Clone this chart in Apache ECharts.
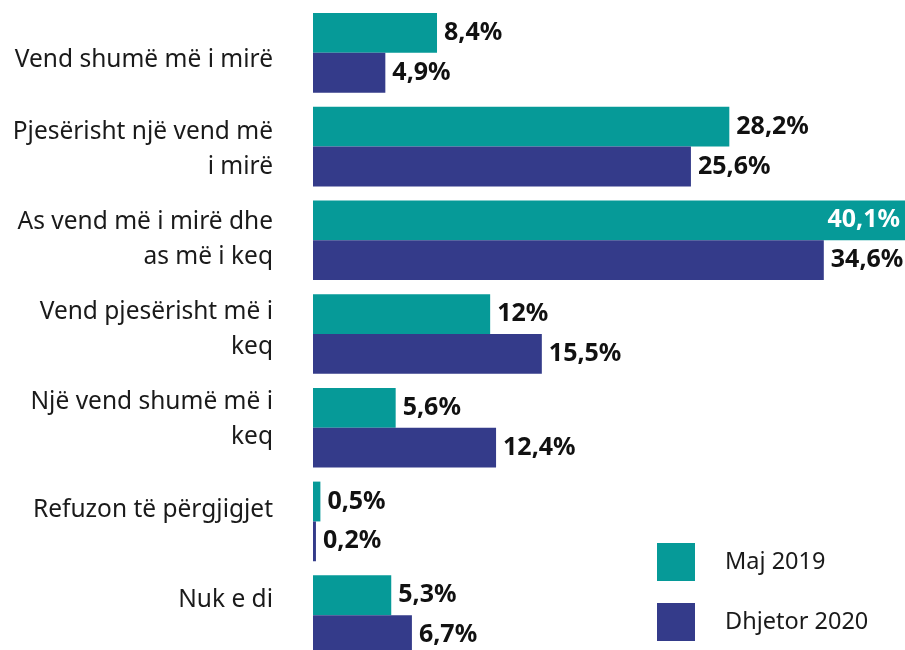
<!DOCTYPE html>
<html>
<head>
<meta charset="utf-8">
<script src="https://cdn.jsdelivr.net/npm/echarts@6/dist/echarts.min.js"></script>
<style>
html, body { margin: 0; padding: 0; background: #fff; overflow: hidden; }
/* taller than the window: the last bar is cut at the bottom edge, as in the original */
#chart { width: 905px; height: 664px; }
</style>
</head>
<body>
<div id="chart"></div>
<script>
var categories = [
    'Vend shumë më i mirë',
    'Pjesërisht një vend më\ni mirë',
    'As vend më i mirë dhe\nas më i keq',
    'Vend pjesërisht më i\nkeq',
    'Një vend shumë më i\nkeq',
    'Refuzon të përgjigjet',
    'Nuk e di'
];
var maj2019 = [8.4, 28.2, 40.1, 12, 5.6, 0.5, 5.3];
var dhjetor2020 = [4.9, 25.6, 34.6, 15.5, 12.4, 0.2, 6.7];

var font = 'Noto Sans';
function pct(p) {
    return String(p.value).replace('.', ',') + '%';
}

var myChart = echarts.init(document.getElementById('chart'));
var valueLabel = {
    show: true,
    position: 'right',
    distance: 7,
    formatter: pct,
    fontFamily: font,
    fontSize: 25,
    fontWeight: 'bold',
    color: '#111'
};
var option = {
    animation: false,
    textStyle: { fontFamily: font },
    legend: {
        orient: 'vertical',
        left: 657,
        top: 543,
        icon: 'rect',
        itemWidth: 38,
        itemHeight: 38,
        itemGap: 22,
        padding: 0,
        textStyle: {
            fontFamily: font,
            fontSize: 23.5,
            color: '#1a1a1a',
            padding: [0, 0, 0, 25]
        },
        data: ['Maj 2019', 'Dhjetor 2020']
    },
    // grid 0 holds the bars, grid 1 only the category labels
    // (in the original the labels are spaced a little tighter than the bars)
    grid: [
        { left: 313, right: 0, top: 6, bottom: 2 },
        { left: 313, right: 0, top: 15, bottom: 19 }
    ],
    xAxis: [
        { type: 'value', min: 0, max: 40.1, show: false, gridIndex: 0 },
        { type: 'value', min: 0, max: 40.1, show: false, gridIndex: 1 }
    ],
    yAxis: [{
        type: 'category',
        gridIndex: 0,
        inverse: true,
        data: categories,
        axisLine: { show: false },
        axisTick: { show: false },
        axisLabel: { show: false }
    }, {
        type: 'category',
        gridIndex: 1,
        inverse: true,
        data: categories,
        axisLine: { show: false },
        axisTick: { show: false },
        axisLabel: {
            margin: 40,
            fontFamily: font,
            fontSize: 24.5,
            lineHeight: 35,
            color: '#1a1a1a',
            align: 'right'
        }
    }],
    series: [{
        name: 'Maj 2019',
        type: 'bar',
        data: maj2019.map(function (v, i) {
            // largest bar carries its label inside
            if (i === 2) {
                return { value: v, label: { position: 'insideRight', color: '#fff', offset: [2, 0] } };
            }
            return v;
        }),
        barGap: 0,
        barCategoryGap: '15%',
        itemStyle: { color: '#069A98' },
        label: valueLabel
    }, {
        name: 'Dhjetor 2020',
        type: 'bar',
        data: dhjetor2020,
        barGap: 0,
        barCategoryGap: '15%',
        itemStyle: { color: '#343B8A' },
        label: valueLabel
    }]
};
myChart.setOption(option);
</script>
</body>
</html>
